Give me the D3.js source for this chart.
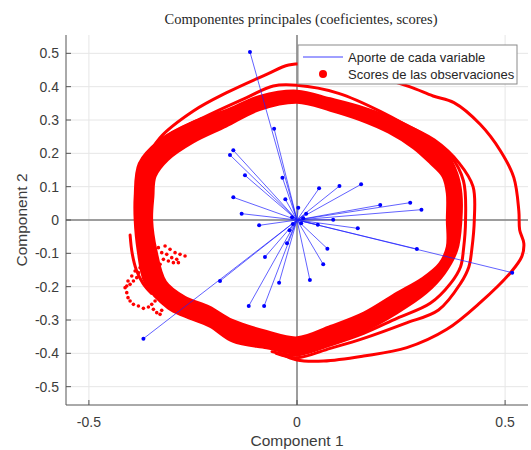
<!DOCTYPE html>
<html>
<head>
<meta charset="utf-8">
<script src="https://cdn.jsdelivr.net/npm/d3@7"></script>
<style>
  body { margin: 0; background: #fff; }
  text { font-family: "Liberation Sans", Arial, sans-serif; }
</style>
</head>
<body>
<svg id="chart" width="531" height="450"></svg>
<script>
// variable loadings (Component 1, Component 2)
var coefs = [
  [-0.113, 0.504], [-0.055, 0.274], [-0.153, 0.209], [-0.161, 0.195],
  [-0.125, 0.134], [-0.035, 0.127], [-0.153, 0.068], [-0.028, 0.062],
  [-0.133, 0.019], [-0.091, -0.016], [0.003, 0.037], [0.022, 0.019],
  [0.053, 0.095], [0.102, 0.102], [0.154, 0.107], [0.200, 0.045],
  [0.272, 0.052], [0.299, 0.031], [0.087, 0.001], [0.146, -0.025],
  [0.050, -0.014], [0.073, -0.086], [0.063, -0.133], [0.031, -0.180],
  [0.288, -0.087], [0.517, -0.158], [-0.018, -0.031], [-0.024, -0.070],
  [-0.077, -0.111], [-0.185, -0.183], [-0.369, -0.356], [-0.043, -0.188],
  [-0.116, -0.258], [-0.079, -0.258], [0.010, -0.010], [-0.012, 0.008],
  [0.015, 0.005], [-0.010, -0.012]
];

// scores: dense trajectories
var bandOuter = [
  [0.395, 0.00], [0.395, 0.08], [0.385, 0.14], [0.36, 0.20], [0.32, 0.245],
  [0.24, 0.30], [0.16, 0.338], [0.08, 0.365], [0.0, 0.388], [-0.09, 0.372],
  [-0.17, 0.33], [-0.25, 0.295], [-0.33, 0.24], [-0.38, 0.17], [-0.39, 0.07],
  [-0.39, 0.0], [-0.383, -0.09], [-0.365, -0.19], [-0.31, -0.265], [-0.27, -0.29],
  [-0.21, -0.32], [-0.155, -0.365], [-0.073, -0.385], [0.0, -0.40], [0.08, -0.372],
  [0.16, -0.335], [0.24, -0.28], [0.31, -0.22], [0.355, -0.16], [0.385, -0.09]
];
var bandInner = [
  [0.36, 0.00], [0.36, 0.08], [0.35, 0.13], [0.32, 0.17], [0.28, 0.215],
  [0.22, 0.262], [0.15, 0.30], [0.08, 0.328], [0.0, 0.352], [-0.09, 0.33],
  [-0.17, 0.28], [-0.25, 0.232], [-0.31, 0.18], [-0.34, 0.13], [-0.345, 0.07],
  [-0.348, 0.0], [-0.338, -0.09], [-0.315, -0.185], [-0.27, -0.23], [-0.21, -0.26],
  [-0.155, -0.30], [-0.073, -0.333], [0.0, -0.352], [0.08, -0.318], [0.16, -0.278],
  [0.24, -0.218], [0.30, -0.175], [0.342, -0.13], [0.36, -0.08]
];
var ring2a = [
  [-0.377, 0.147], [-0.329, 0.237], [-0.225, 0.307], [-0.121, 0.367], [-0.057, 0.402],
  [0.0, 0.404], [0.1, 0.38], [0.2, 0.326], [0.3, 0.255], [0.37, 0.19],
  [0.40, 0.117], [0.405, 0.0], [0.40, -0.088], [0.393, -0.14], [0.369, -0.19],
  [0.32, -0.25], [0.24, -0.295], [0.16, -0.34], [0.08, -0.375], [0.0, -0.405], [-0.06, -0.395]
];
var ring2b = [
  [0.25, 0.29], [0.33, 0.24], [0.39, 0.17], [0.423, 0.1], [0.426, 0.0],
  [0.42, -0.088], [0.413, -0.14], [0.393, -0.19], [0.34, -0.27], [0.26, -0.31],
  [0.16, -0.355], [0.08, -0.385], [0.0, -0.413], [-0.05, -0.40]
];
var ringOuter = [
  [-0.369, 0.167], [-0.329, 0.247], [-0.249, 0.327], [-0.169, 0.382], [-0.073, 0.437],
  [-0.02, 0.465], [0.04, 0.468], [0.15, 0.445], [0.27, 0.40], [0.327, 0.372],
  [0.377, 0.352], [0.44, 0.287], [0.489, 0.207], [0.521, 0.127], [0.533, 0.027],
  [0.535, -0.03], [0.545, -0.07], [0.54, -0.11], [0.513, -0.158], [0.44, -0.248],
  [0.36, -0.328], [0.264, -0.383], [0.16, -0.408], [0.064, -0.423], [0.0, -0.42], [-0.04, -0.40]
];
var tailLeft = [
  [-0.401, -0.045], [-0.396, -0.10], [-0.386, -0.15], [-0.37, -0.19], [-0.35, -0.22]
];
var scatterScores = [
  [-0.333, -0.083], [-0.325, -0.098], [-0.317, -0.078], [-0.313, -0.103], [-0.305, -0.088],
  [-0.301, -0.113], [-0.293, -0.098], [-0.289, -0.118], [-0.281, -0.103], [-0.269, -0.108],
  [-0.285, -0.128], [-0.297, -0.128], [-0.309, -0.123], [-0.321, -0.118], [-0.329, -0.133],
  [-0.413, -0.203], [-0.409, -0.218], [-0.406, -0.233], [-0.401, -0.243], [-0.393, -0.253],
  [-0.381, -0.258], [-0.369, -0.265], [-0.357, -0.261], [-0.345, -0.268], [-0.337, -0.278],
  [-0.329, -0.283], [-0.325, -0.271], [-0.349, -0.253], [-0.341, -0.243], [-0.401, -0.193],
  [-0.393, -0.183], [-0.385, -0.173], [-0.381, -0.158], [-0.389, -0.153], [-0.397, -0.168],
  [-0.406, -0.183], [-0.409, -0.198], [-0.377, -0.143], [-0.369, -0.163], [-0.361, -0.178],
  [-0.357, -0.193]
];

var xTicks = [-0.5, 0, 0.5];
var yTicks = [-0.5, -0.4, -0.3, -0.2, -0.1, 0, 0.1, 0.2, 0.3, 0.4, 0.5];
var legendLabels = ['Aporte de cada variable', 'Scores de las observaciones'];

(function () {
  var svg = d3.select('#chart');
  var mLeft = 66, mRight = 528, mTop = 35, mBottom = 405;

  var x = d3.scaleLinear().domain([-0.555, 0.555]).range([mLeft, mRight]);
  var y = d3.scaleLinear().domain([-0.555, 0.555]).range([mBottom, mTop]);

  svg.append('defs').append('clipPath').attr('id', 'plotClip')
    .append('rect')
    .attr('x', mLeft).attr('y', mTop)
    .attr('width', mRight - mLeft).attr('height', mBottom - mTop);

  // grid
  var grid = svg.append('g');
  grid.selectAll('.gx').data(xTicks).enter().append('line')
    .attr('x1', d => x(d)).attr('x2', d => x(d))
    .attr('y1', mTop).attr('y2', mBottom)
    .attr('stroke', '#e6e6e6').attr('stroke-width', 1);
  grid.selectAll('.gy').data(yTicks).enter().append('line')
    .attr('x1', mLeft).attr('x2', mRight)
    .attr('y1', d => y(d)).attr('y2', d => y(d))
    .attr('stroke', '#e6e6e6').attr('stroke-width', 1);

  // zero lines of the biplot
  svg.append('line')
    .attr('x1', x(0)).attr('x2', x(0)).attr('y1', mTop).attr('y2', mBottom)
    .attr('stroke', '#808080').attr('stroke-width', 1.5);
  svg.append('line')
    .attr('x1', mLeft).attr('x2', mRight).attr('y1', y(0)).attr('y2', y(0))
    .attr('stroke', '#808080').attr('stroke-width', 1.5);

  var plot = svg.append('g').attr('clip-path', 'url(#plotClip)');

  // scores
  var closedLine = d3.line().x(d => x(d[0])).y(d => y(d[1])).curve(d3.curveCatmullRomClosed);
  var openLine = d3.line().x(d => x(d[0])).y(d => y(d[1])).curve(d3.curveCatmullRom);

  plot.append('path')
    .attr('d', closedLine(bandOuter) + closedLine(bandInner))
    .attr('fill', '#ff0000').attr('fill-rule', 'evenodd')
    .attr('stroke', '#ff0000').attr('stroke-width', 2);

  [ring2a, ring2b, ringOuter, tailLeft].forEach(function(r) {
    plot.append('path')
      .attr('d', openLine(r))
      .attr('fill', 'none')
      .attr('stroke', '#ff0000')
      .attr('stroke-width', 3)
      .attr('stroke-linecap', 'round');
  });

  plot.selectAll('.sc').data(scatterScores).enter().append('circle')
    .attr('cx', d => x(d[0])).attr('cy', d => y(d[1]))
    .attr('r', 1.8).attr('fill', '#ff0000');

  // loadings
  plot.selectAll('.vec').data(coefs).enter().append('line')
    .attr('x1', x(0)).attr('y1', y(0))
    .attr('x2', d => x(d[0])).attr('y2', d => y(d[1]))
    .attr('stroke', '#2020ff').attr('stroke-opacity', 0.7).attr('stroke-width', 1);
  plot.selectAll('.vd').data(coefs).enter().append('circle')
    .attr('cx', d => x(d[0])).attr('cy', d => y(d[1]))
    .attr('r', 2).attr('fill', '#0000ff');

  // axes
  var axes = svg.append('g');
  axes.append('line').attr('x1', mLeft).attr('x2', mLeft).attr('y1', mTop).attr('y2', mBottom)
    .attr('stroke', '#555').attr('stroke-width', 1);
  axes.append('line').attr('x1', mLeft).attr('x2', mRight).attr('y1', mBottom).attr('y2', mBottom)
    .attr('stroke', '#555').attr('stroke-width', 1);
  axes.selectAll('.tx').data(xTicks).enter().append('line')
    .attr('x1', d => x(d)).attr('x2', d => x(d)).attr('y1', mBottom).attr('y2', mBottom - 5)
    .attr('stroke', '#555');
  axes.selectAll('.ty').data(yTicks).enter().append('line')
    .attr('x1', mLeft).attr('x2', mLeft + 5).attr('y1', d => y(d)).attr('y2', d => y(d))
    .attr('stroke', '#555');
  axes.selectAll('.lx').data(xTicks).enter().append('text')
    .attr('x', d => x(d)).attr('y', 427)
    .attr('text-anchor', 'middle').attr('font-size', 14).attr('fill', '#3c3c3c')
    .text(d => d === 0 ? '0' : d3.format('.1f')(d).replace('−', '-'));
  axes.selectAll('.ly').data(yTicks).enter().append('text')
    .attr('x', mLeft - 7).attr('y', d => y(d) + 5)
    .attr('text-anchor', 'end').attr('font-size', 14).attr('fill', '#3c3c3c')
    .text(d => d === 0 ? '0' : d3.format('.1f')(d).replace('−', '-'));

  svg.append('text')
    .attr('x', x(0)).attr('y', 446)
    .attr('text-anchor', 'middle').attr('font-size', 15.5).attr('fill', '#3c3c3c')
    .text('Component 1');
  svg.append('text')
    .attr('transform', 'translate(27,' + y(0) + ') rotate(-90)')
    .attr('text-anchor', 'middle').attr('font-size', 15.5).attr('fill', '#3c3c3c')
    .text('Component 2');

  svg.append('text')
    .attr('x', 301).attr('y', 24)
    .attr('text-anchor', 'middle')
    .style('font-family', '"Liberation Serif", "Times New Roman", serif')
    .attr('font-size', 14.5).attr('fill', '#262626')
    .text('Componentes principales (coeficientes, scores)');

  // legend
  var lg = svg.append('g').attr('transform', 'translate(298,45)');
  lg.append('rect').attr('width', 219).attr('height', 39)
    .attr('fill', '#fff').attr('stroke', '#8a8a8a').attr('stroke-width', 1);
  lg.append('line').attr('x1', 5).attr('x2', 45).attr('y1', 12).attr('y2', 12)
    .attr('stroke', '#4040ff').attr('stroke-width', 1);
  lg.append('circle').attr('cx', 25).attr('cy', 29).attr('r', 4).attr('fill', '#ff0000');
  lg.selectAll('.lt').data(legendLabels).enter().append('text')
    .attr('x', 50).attr('y', (d, i) => 17 + i * 17)
    .attr('font-size', 13).attr('fill', '#262626')
    .text(d => d);
})();
</script>
</body>
</html>
